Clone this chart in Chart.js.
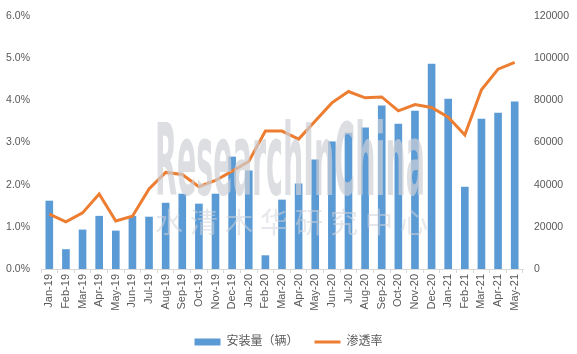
<!DOCTYPE html>
<html>
<head>
<meta charset="utf-8">
<script src="https://cdn.jsdelivr.net/npm/chart.js@4.4.0/dist/chart.umd.min.js"></script>
<style>
  html, body { margin: 0; padding: 0; background: #fff; }
  #wrap { width: 577px; height: 354px; }
</style>
</head>
<body>
<div id="wrap"><canvas id="chart" width="577" height="354"></canvas></div>
<script>
// данные графика
const months = ['Jan-19','Feb-19','Mar-19','Apr-19','May-19','Jun-19','Jul-19','Aug-19','Sep-19','Oct-19','Nov-19','Dec-19',
  'Jan-20','Feb-20','Mar-20','Apr-20','May-20','Jun-20','Jul-20','Aug-20','Sep-20','Oct-20','Nov-20','Dec-20',
  'Jan-21','Feb-21','Mar-21','Apr-21','May-21'];
const installs = [32400, 9400, 18700, 25200, 18200, 25200, 24800, 31400, 35700, 31000, 35700, 53300,
  46700, 6500, 32900, 40500, 51900, 60500, 64600, 67100, 77500, 68900, 75100, 97300,
  80800, 39000, 71300, 74100, 79400];
const penetration = [1.30, 1.12, 1.33, 1.78, 1.14, 1.25, 1.90, 2.29, 2.24, 1.95, 2.10, 2.32,
  2.55, 3.27, 3.27, 3.08, 3.51, 3.94, 4.21, 4.06, 4.08, 3.75, 3.90, 3.83,
  3.60, 3.18, 4.25, 4.74, 4.90];
const barLabel = '安装量（辆）';
const lineLabel = '渗透率';

const tickColor = '#595959';
const font = "'Liberation Sans', 'Noto Sans CJK SC', sans-serif";

// водяной знак
const watermark = {
  id: 'watermark',
  afterDatasetsDraw(chart) {
    const ctx = chart.ctx;
    ctx.save();
    ctx.fillStyle = 'rgba(205, 208, 214, 0.7)';
    ctx.font = "bold 100px 'DejaVu Sans Condensed', 'DejaVu Sans', sans-serif";
    ctx.textBaseline = 'alphabetic';
    const txt = 'ResearchInChina';
    const w = ctx.measureText(txt).width;
    ctx.translate(155, 195);
    ctx.scale(270 / w, 1);
    ctx.fillText(txt, 0, 0);
    ctx.restore();

    ctx.save();
    ctx.fillStyle = 'rgba(210, 212, 216, 0.55)';
    ctx.font = "28px 'Noto Sans CJK SC', sans-serif";
    ctx.textBaseline = 'middle';
    const cn = '水清木华研究中心';
    for (let i = 0; i < cn.length; i++) {
      ctx.fillText(cn[i], 155 + i * 35, 222);
    }
    ctx.restore();
  }
};

// легенда чуть ниже
const legendShift = {
  id: 'legendShift',
  afterLayout(chart) {
    chart.legend.top += 4;
    chart.legend.bottom += 4;
  }
};

const ctx = document.getElementById('chart').getContext('2d');
new Chart(ctx, {
  data: {
    labels: months,
    datasets: [{
      type: 'bar',
      label: barLabel,
      data: installs,
      yAxisID: 'y1',
      backgroundColor: '#5B9BD5',
      borderWidth: 0,
      barPercentage: 0.46,
      categoryPercentage: 1,
      order: 2,
      pointStyle: 'rect'
    }, {
      type: 'line',
      label: lineLabel,
      data: penetration,
      yAxisID: 'y',
      borderColor: '#ED7D31',
      backgroundColor: '#ED7D31',
      borderWidth: 3,
      pointRadius: 0,
      tension: 0,
      order: 1,
      pointStyle: 'line'
    }]
  },
  options: {
    responsive: false,
    animation: false,
    layout: { padding: { top: 16, left: 0, right: 0, bottom: 0 } },
    plugins: {
      legend: {
        position: 'bottom',
        labels: {
          usePointStyle: true,
          pointStyleWidth: 26,
          boxHeight: 7,
          padding: 16,
          color: tickColor,
          font: { family: font, size: 12 },
          sort: (a, b) => a.datasetIndex - b.datasetIndex
        }
      },
      tooltip: { enabled: false }
    },
    scales: {
      x: {
        offset: true,
        grid: { offset: true, drawOnChartArea: false, tickLength: 4, color: '#D9D9D9' },
        border: { color: '#D9D9D9' },
        ticks: {
          color: tickColor, font: { family: font, size: 11 },
          minRotation: 90, maxRotation: 90, autoSkip: false, padding: 1
        },
        afterFit(scale) { scale.height = 47; }
      },
      y: {
        position: 'left',
        min: 0, max: 6,
        grid: { display: false },
        border: { display: false },
        ticks: {
          stepSize: 1, padding: 3, color: tickColor, font: { family: font, size: 10.5 },
          callback: v => v.toFixed(1) + '%'
        },
        afterFit(scale) { scale.width = 41; }
      },
      y1: {
        position: 'right',
        min: 0, max: 120000,
        grid: { display: false },
        border: { display: false },
        ticks: {
          stepSize: 20000, padding: 3, color: tickColor, font: { family: font, size: 10.5 },
          callback: v => String(v)
        },
        afterFit(scale) { scale.width = 54; }
      }
    }
  },
  plugins: [watermark, legendShift]
});
</script>
</body>
</html>
